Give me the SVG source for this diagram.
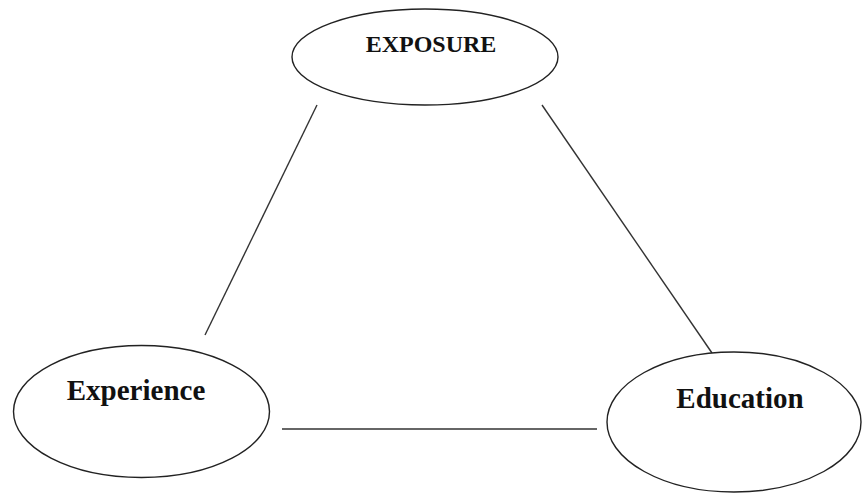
<svg xmlns="http://www.w3.org/2000/svg" width="862" height="494" viewBox="0 0 862 494">
<style>
.node{fill:#fff;stroke:#222;stroke-width:1.4}
.lbl{font-family:"Liberation Serif","Times New Roman",serif;font-weight:bold;fill:#111;text-anchor:middle}
.edge{stroke:#333;stroke-width:1.4;fill:none}
</style>
<rect width="862" height="494" fill="#fff"/>
<g id="connectors">
<line class="edge" x1="317" y1="105" x2="205" y2="335"/>
<line class="edge" x1="542" y1="105" x2="712" y2="353"/>
<line class="edge" x1="282" y1="429" x2="597" y2="429"/>
</g>
<g id="exposure">
<ellipse class="node" cx="425" cy="57" rx="133" ry="48"/>
<text class="lbl" x="431" y="52" font-size="24">EXPOSURE</text>
</g>
<g id="experience">
<ellipse class="node" cx="141.5" cy="411.5" rx="128" ry="66"/>
<text class="lbl" x="136" y="400" font-size="29">Experience</text>
</g>
<g id="education">
<ellipse class="node" cx="734" cy="422" rx="127" ry="70"/>
<text class="lbl" x="740" y="408" font-size="29">Education</text>
</g>
</svg>
